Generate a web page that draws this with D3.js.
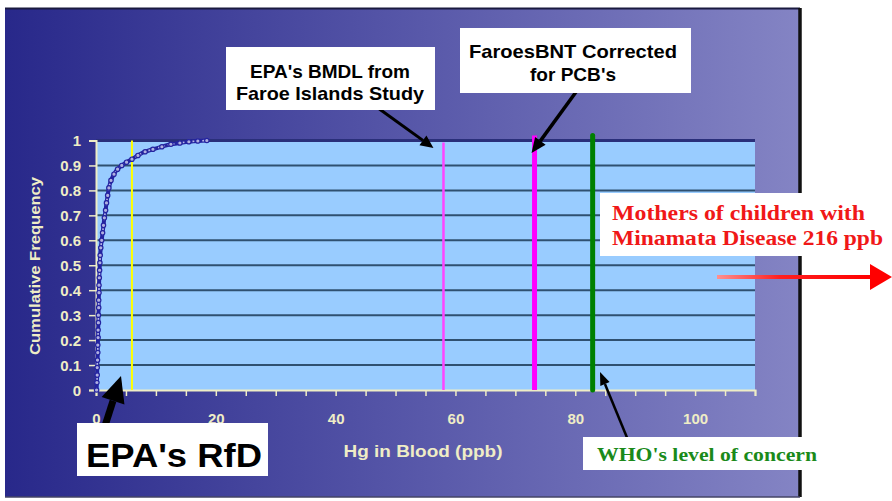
<!DOCTYPE html>
<html><head><meta charset="utf-8">
<script src="https://cdn.jsdelivr.net/npm/d3@7"></script>
<style>body{margin:0;background:#fff}svg{display:block}</style>
</head><body>
<script>
// ---- data ----
const hgValues = [0.1,0.15,0.2,0.2,0.25,0.3,0.3,0.35,0.35,0.4,0.4,0.45,0.45,0.5,0.5,0.55,0.6,0.65,0.7,0.8,0.95,1.1,1.25,1.4,1.6,1.75,1.95,2.15,2.5,3.0,3.6,4.3,5.1,6.0,7.0,8.2,9.5,11.0,12.5,14.0,15.5,17.0,18.5];
const cumFreq  = [0,0.03,0.06,0.09,0.12,0.15,0.18,0.21,0.24,0.27,0.30,0.33,0.36,0.39,0.42,0.45,0.48,0.51,0.54,0.57,0.60,0.63,0.66,0.69,0.72,0.75,0.78,0.81,0.84,0.865,0.885,0.90,0.913,0.925,0.94,0.955,0.965,0.975,0.985,0.99,0.995,0.998,1.0];
const xTickLabels = [0,20,40,60,80,100];
const xMinorTicks = d3.range(0,111,5);
const yTickLabels = [0,0.1,0.2,0.3,0.4,0.5,0.6,0.7,0.8,0.9,1];
const refLevels = [6.0, 58, 73.2, 82.9];   // RfD, BMDL, FaroesBNT corrected, WHO
const xTitle = "Hg in Blood (ppb)";
const yTitle = "Cumulative Frequency";

const W = 892, H = 501;
const svg = d3.select("body").append("svg").attr("width",W).attr("height",H);
const defs = svg.append("defs");
const g1 = defs.append("linearGradient").attr("id","bg").attr("x1","0").attr("x2","1").attr("y1","0").attr("y2","0");
g1.append("stop").attr("offset","0").attr("stop-color","#28288a");
g1.append("stop").attr("offset","0.5").attr("stop-color","#5656a8");
g1.append("stop").attr("offset","1").attr("stop-color","#8484c4");
const g2 = defs.append("linearGradient").attr("id","redg").attr("x1","0").attr("x2","1");
g2.append("stop").attr("offset","0").attr("stop-color","#ff9090");
g2.append("stop").attr("offset","0.4").attr("stop-color","#ff2020");
g2.append("stop").attr("offset","1").attr("stop-color","#ff0000");

// panel
svg.append("rect").attr("x",5).attr("y",8).attr("width",795).attr("height",489).attr("fill","url(#bg)");
svg.append("line").attr("x1",5).attr("x2",800).attr("y1",8.5).attr("y2",8.5).attr("stroke","#1a1a40").attr("stroke-width",2);
svg.append("line").attr("x1",800).attr("x2",800).attr("y1",8).attr("y2",497).attr("stroke","#111").attr("stroke-width",3.5);
svg.append("line").attr("x1",5).attr("x2",800).attr("y1",497).attr("y2",497).attr("stroke","#444466").attr("stroke-width",1.5);

const x = d3.scaleLinear().domain([0,110]).range([96,755]);
const y = d3.scaleLinear().domain([0,1]).range([390,140.5]);

// plot area
svg.append("rect").attr("x",x(0)).attr("y",y(1)).attr("width",x(110)-x(0)).attr("height",y(0)-y(1)).attr("fill","#99ccff");

// gridlines
svg.append("g").selectAll("line").data(yTickLabels.filter(d=>d>0)).join("line")
  .attr("x1",x(0)).attr("x2",x(110)).attr("y1",d=>y(d)).attr("y2",d=>y(d))
  .attr("stroke",d=>d===1?"#2a2f7a":"#2f5070").attr("stroke-width",d=>d===1?3:2);

// axes
const cream = "#efedc6";
const yAxis = svg.append("g").attr("transform",`translate(${x(0)},0)`)
  .call(d3.axisLeft(y).tickValues(yTickLabels).tickFormat(d3.format("~g")).tickSize(7).tickPadding(8));
const xAxis = svg.append("g").attr("transform",`translate(0,${y(0)})`)
  .call(d3.axisBottom(x).tickValues(xMinorTicks).tickFormat(d=>xTickLabels.includes(d)?d:"").tickSize(6).tickPadding(17));
[yAxis,xAxis].forEach(a=>{
  a.attr("font-size",null).attr("font-family",null);
  a.select(".domain").attr("stroke",cream).attr("stroke-width",2);
  a.selectAll(".tick line").attr("stroke",cream).attr("stroke-width",1.5);
  a.selectAll("text").attr("fill",cream).style("font-family","Liberation Sans, Arial, sans-serif")
    .style("font-weight","bold").style("font-size","15px");
});
yAxis.selectAll("text").attr("dy","0.35em");

// axis titles
svg.append("text").attr("transform","translate(40,266) rotate(-90)").attr("text-anchor","middle")
  .attr("fill",cream).attr("font-family","Liberation Sans, Arial, sans-serif").attr("font-weight","bold")
  .attr("font-size",14).attr("textLength",178).attr("lengthAdjust","spacingAndGlyphs").text(yTitle);
svg.append("text").attr("x",423).attr("y",457).attr("text-anchor","middle")
  .attr("fill",cream).attr("font-family","Liberation Sans, Arial, sans-serif").attr("font-weight","bold")
  .attr("font-size",16).attr("textLength",159).attr("lengthAdjust","spacingAndGlyphs").text(xTitle);

// reference lines
const refStyle = [
  {c:"#ffff00", w:2, top:y(1)},
  {c:"#ff44ff", w:2.5, top:y(1)+2},
  {c:"#ff00ff", w:5, top:y(1)-5},
  {c:"#008000", w:5, top:y(1)-5}
];
svg.append("g").selectAll("line").data(refLevels).join("line")
  .attr("x1",d=>x(d)).attr("x2",d=>x(d)).attr("y1",y(0)).attr("y2",(d,i)=>refStyle[i].top)
  .attr("stroke",(d,i)=>refStyle[i].c).attr("stroke-width",(d,i)=>refStyle[i].w)
  .attr("stroke-linecap",(d,i)=>i===3?"round":"butt");

// curve
const pts = hgValues.map((v,i)=>[v,cumFreq[i]]);
svg.append("path").datum(pts).attr("fill","none").attr("stroke","#2424a0").attr("stroke-width",4)
  .attr("d",d3.line().x(d=>x(d[0])).y(d=>y(d[1])).curve(d3.curveMonotoneY));
svg.append("path").datum(pts).attr("fill","none").attr("stroke","#b8b8e8").attr("stroke-width",1.6)
  .attr("stroke-dasharray","2,3")
  .attr("d",d3.line().x(d=>x(d[0])).y(d=>y(d[1])).curve(d3.curveMonotoneY));
svg.append("g").selectAll("circle").data(pts).join("circle")
  .attr("cx",d=>x(d[0])).attr("cy",d=>y(d[1])).attr("r",2.2)
  .attr("fill","#b0b0e0").attr("stroke","#2424a0").attr("stroke-width",1.2);

// arrows
function arrow(x1,y1,x2,y2,w,hl,hw,color){
  const a = Math.atan2(y2-y1,x2-x1);
  const bx = x2 - hl*Math.cos(a), by = y2 - hl*Math.sin(a);
  svg.append("line").attr("x1",x1).attr("y1",y1).attr("x2",bx).attr("y2",by)
    .attr("stroke",color).attr("stroke-width",w);
  const px = -Math.sin(a)*hw/2, py = Math.cos(a)*hw/2;
  svg.append("polygon").attr("points",`${x2},${y2} ${bx+px},${by+py} ${bx-px},${by-py}`).attr("fill",color);
}
arrow(378,108,x(58)-10,148,3,13,12,"#000");
arrow(576,92,x(73.2)-3,153,3.5,15,13,"#000");
arrow(628,440,600,372,2.5,13,10,"#000");
arrow(103,432,121,376,7,26,24,"#000");

// annotation boxes
function box(x0,y0,w,h){ svg.append("rect").attr("x",x0).attr("y",y0).attr("width",w).attr("height",h).attr("fill","#fff"); }
function txt(t,cx,by,size,len,color,fam,anchor){
  svg.append("text").attr("x",cx).attr("y",by).attr("text-anchor",anchor||"middle")
    .attr("font-family",fam||"Liberation Sans, Arial, sans-serif").attr("font-weight","bold")
    .attr("font-size",size).attr("fill",color||"#000")
    .attr("textLength",len).attr("lengthAdjust","spacingAndGlyphs").text(t);
}
box(226,47,209,63);
txt("EPA's BMDL from",330,78,19,160);
txt("Faroe Islands Study",330,100,19,188);
box(460,28,231,65);
txt("FaroesBNT Corrected",573,58,19,208);
txt("for PCB's",573,81,19,86);
box(77,423,191,53);
txt("EPA's RfD",174,467,34,176);
box(583,437,237,33);
txt("WHO's level of concern",707,461,18,220,"#1a8a1a","Liberation Serif, Times New Roman, serif");
box(600,193,292,63);
txt("Mothers of children with",612,220,20,253,"#f01818","Liberation Serif, Times New Roman, serif","start");
txt("Minamata Disease 216 ppb",612,245,20,271,"#f01818","Liberation Serif, Times New Roman, serif","start");

// red arrow
const rl = svg.append("g");
rl.append("rect").attr("x",717).attr("y",275).attr("width",156).attr("height",4).attr("fill","url(#redg)");
rl.append("polygon").attr("points","892,277 870,264 870,290").attr("fill","#ff0000");
</script>
</body></html>
